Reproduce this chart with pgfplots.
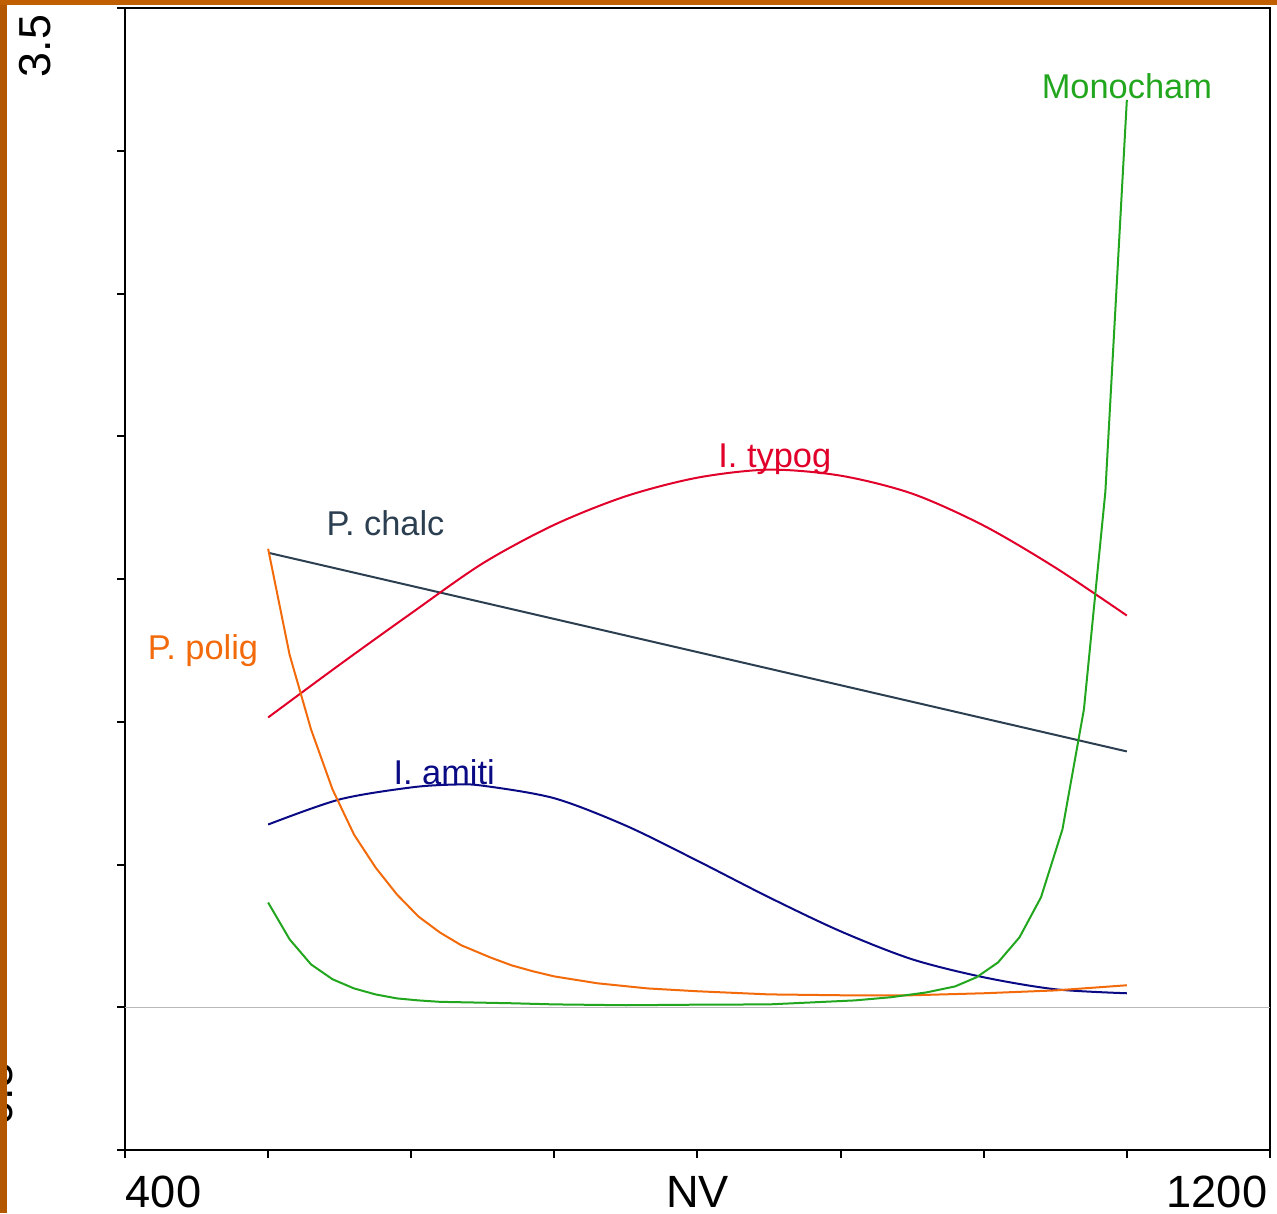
\documentclass[border=0pt]{standalone}
\usepackage{pgfplots}
\pgfplotsset{compat=1.18}
\usepackage{fontspec}
\setmainfont{Liberation Sans}
\definecolor{cchalc}{HTML}{2B3F50}
\definecolor{ctypog}{HTML}{E0002A}
\definecolor{cpolig}{HTML}{F26A0A}
\definecolor{camiti}{HTML}{0A0A85}
\definecolor{cmono}{HTML}{22A61E}
\definecolor{stripe}{HTML}{B45800}
\definecolor{stripetop}{HTML}{BF5F00}
\begin{document}
\begin{tikzpicture}
\begin{axis}[
  at={(0,0)}, anchor=south west,
  width=286.25pt, height=285.5pt, scale only axis,
  xmin=400, xmax=1200, ymin=-0.5, ymax=3.5,
  xtick={400,500,...,1200}, ytick={-0.5,0,...,3.5},
  xticklabels={}, yticklabels={},
  tick pos=left, tick align=outside, major tick length=2pt,
  axis line style={line width=0.5pt},
  tick style={black, line width=0.5pt},
  clip=false,
  every axis plot/.append style={line width=0.5pt},
]
\addplot[gray!55, line width=0.3pt] coordinates {(400,0) (1200,0)};
% P. chalc
\addplot[cchalc] coordinates {(500,1.592) (600,1.476) (700,1.360) (800,1.244) (900,1.128) (1000,1.012) (1100,0.896)};
% I. typog
\addplot[ctypog, smooth] coordinates {(500,1.015) (550,1.200) (600,1.380) (650,1.555) (700,1.690) (750,1.790) (800,1.855) (850,1.883) (900,1.862) (950,1.799) (1000,1.687) (1050,1.540) (1100,1.372)};
% I. amiti
\addplot[camiti, smooth] coordinates {(500,0.640) (550,0.728) (600,0.770) (630,0.780) (650,0.776) (700,0.732) (750,0.636) (800,0.513) (850,0.385) (900,0.266) (950,0.168) (1000,0.105) (1050,0.063) (1100,0.049)};
% P. polig
\addplot[cpolig] coordinates {(500,1.606) (515,1.235) (530,0.973) (545,0.763) (560,0.605) (575,0.490) (590,0.395) (605,0.318) (620,0.262) (635,0.217) (655,0.175) (670,0.147) (685,0.126) (700,0.108) (730,0.084) (765,0.066) (800,0.056) (850,0.045) (900,0.042) (950,0.042) (1000,0.049) (1050,0.059) (1100,0.077)};
% Monocham
\addplot[cmono] coordinates {(500,0.367) (515,0.238) (530,0.150) (545,0.098) (560,0.066) (575,0.045) (590,0.031) (605,0.024) (620,0.019) (670,0.014) (700,0.010) (750,0.007) (800,0.009) (850,0.010) (880,0.017) (910,0.024) (935,0.035) (960,0.052) (980,0.073) (995,0.105) (1010,0.157) (1025,0.245) (1040,0.385) (1055,0.623) (1070,1.043) (1085,1.806) (1100,3.178)};
% curve labels
\node[font=\fontsize{8.6pt}{10pt}\selectfont, text=cmono, inner sep=0pt] at (axis cs:1100,3.227) {Monocham};
\node[font=\fontsize{8.6pt}{10pt}\selectfont, text=ctypog, inner sep=0pt] at (axis cs:854,1.918) {I. typog};
\node[font=\fontsize{8.6pt}{10pt}\selectfont, text=cchalc, inner sep=0pt] at (axis cs:582,1.694) {P. chalc};
\node[font=\fontsize{8.6pt}{10pt}\selectfont, text=cpolig, inner sep=0pt] at (axis cs:454.5,1.25) {P. polig};
\node[font=\fontsize{8.6pt}{10pt}\selectfont, text=camiti, inner sep=0pt] at (axis cs:623,0.822) {I. amiti};
% tick labels
\node[font=\fontsize{11.3pt}{13pt}\selectfont, inner sep=0pt, anchor=base west] at ([yshift=-14.25pt]axis cs:400,-0.5) {400};
\node[font=\fontsize{11.3pt}{13pt}\selectfont, inner sep=0pt, anchor=base] at ([yshift=-14.25pt]axis cs:800,-0.5) {NV};
\node[font=\fontsize{11.3pt}{13pt}\selectfont, inner sep=0pt, anchor=base east] at ([yshift=-14.25pt, xshift=-0.5pt]axis cs:1200,-0.5) {1200};
\end{axis}
\node[font=\fontsize{11.2pt}{13pt}\selectfont, inner sep=0pt, rotate=90] at (-22.4pt,276pt) {3.5};
\node[font=\fontsize{11.2pt}{13pt}\selectfont, inner sep=0pt, rotate=90] at (-31.9pt,12.1pt) {-0.5};
\fill[stripe] (-31.25pt,-15.75pt) rectangle (-29.5pt,287.5pt);
\fill[stripetop] (-31.25pt,286.25pt) rectangle (288pt,287.5pt);
\pgfresetboundingbox
\path[use as bounding box] (-31.25pt,-15.75pt) rectangle (288pt,287.5pt);
\end{tikzpicture}
\end{document}
